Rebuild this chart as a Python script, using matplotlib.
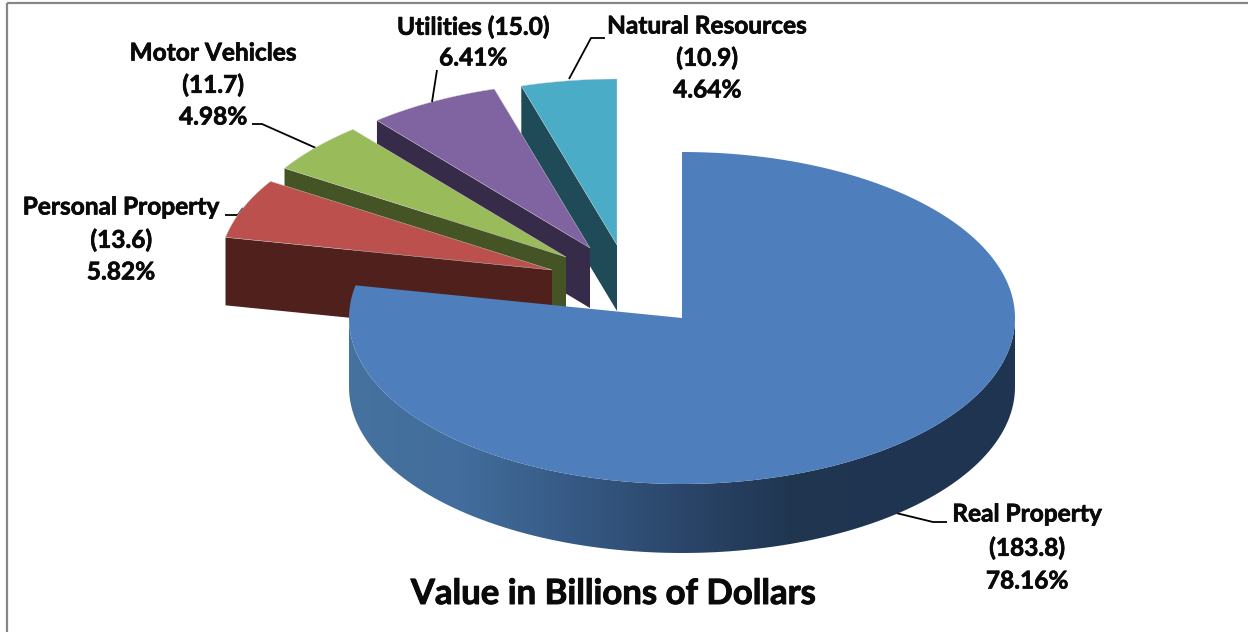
import matplotlib
matplotlib.use('Agg')
import matplotlib.pyplot as plt
import matplotlib.patheffects as pe
import numpy as np
from matplotlib.patches import Polygon, Rectangle
from matplotlib.colors import LinearSegmentedColormap

# data
names = ['Real Property', 'Personal Property', 'Motor Vehicles', 'Utilities', 'Natural Resources']
values = [183.8, 13.6, 11.7, 15.0, 10.9]
percents = [78.16, 5.82, 4.98, 6.41, 4.64]
title = 'Value in Billions of Dollars'

# look of the slices (pixel positions, y going down)
top_colors = ['#4e7fbc', '#bb504c', '#9abb59', '#8064a2', '#4aacc6']
side_colors = ['#2d4a70', '#4f201c', '#455425', '#372b4a', '#1f4a57']
apex_x = [682, 552, 566, 590, 617]
apex_y = [318, 270, 257, 248, 245]
depths = [69, 68, 60, 60, 66]
rx, ry = 333, 166

plt.rcParams['font.family'] = ['Lato', 'DejaVu Sans']
fig = plt.figure(figsize=(12.48, 6.32), dpi=100)
ax = fig.add_axes([0, 0, 1, 1])


def arc(cx, cy, t0, t1, n=120):
    t = np.radians(np.linspace(t0, t1, n))
    return np.column_stack([cx + rx * np.sin(t), cy - ry * np.cos(t)])


edges = np.concatenate([[0], np.cumsum(percents) / np.sum(percents) * 360])

# back slices first so the nearer ones cover them
for i in [4, 3, 2, 1]:
    cx, cy, d = apex_x[i], apex_y[i], depths[i]
    p0 = arc(cx, cy, edges[i], edges[i], 1)[0]
    side = [p0, (cx, cy), (cx, cy + d), (p0[0], p0[1] + d)]
    ax.add_patch(Polygon(side, closed=True, fc=side_colors[i], ec='none', zorder=i * -2 + 10))
    top = np.vstack([[(cx, cy)], arc(cx, cy, edges[i], edges[i + 1])])
    ax.add_patch(Polygon(top, closed=True, fc=top_colors[i], ec='#d0d0d0', lw=0.3, zorder=i * -2 + 11))

# big slice: rim with a left to right shading, then the top face
cx, cy, d = apex_x[0], apex_y[0], depths[0]
upper = arc(cx, cy, 90, 270)
lower = upper[::-1] + [0, d]
rim = Polygon(np.vstack([upper, lower]), closed=True, fc='none', ec='none', transform=ax.transData)
ax.add_patch(rim)
rim_cmap = LinearSegmentedColormap.from_list('rim', ['#46729f', '#426d9c', '#365a85', '#2b466a', '#203650', '#1f3450', '#1e3552'])
im = ax.imshow(np.linspace(0, 1, 256).reshape(1, -1), cmap=rim_cmap, extent=[cx - rx, cx + rx, cy + ry + d, cy], aspect='auto', zorder=20)
im.set_clip_path(rim)
top = np.vstack([[(cx, cy)], arc(cx, cy, edges[0], edges[1], 300)])
ax.add_patch(Polygon(top, closed=True, fc=top_colors[0], ec='none', zorder=21))

# leader lines
leaders = [
    ([892, 933, 947], [512, 522, 522]),
    ([225, 238, 243], [215, 215, 208]),
    ([252, 262, 316], [124, 124, 148]),
    ([437, 432], [70, 102]),
    ([605, 591, 569], [38, 38, 79]),
]
for xs, ys in leaders:
    ax.plot(xs, ys, color='black', lw=1.3, zorder=5, solid_capstyle='butt')

# labels: one line each, centred; a thin stroke brings Lato up to the reference weight
thick = [pe.withStroke(linewidth=0.5, foreground='#0a0a0a')]
label_pos = [(1027, [514, 548, 581]), (121, [207, 240, 272]), (213, [53, 85, 117]), (473, [27, 58]), (707, [26, 58, 90])]
for i, (lx, ys) in enumerate(label_pos):
    amount = '(%.1f)' % values[i]
    if len(ys) == 2:
        lines = ['%s %s' % (names[i], amount), '%.2f%%' % percents[i]]
    else:
        lines = [names[i], amount, '%.2f%%' % percents[i]]
    for line, y in zip(lines, ys):
        ax.text(lx, y, line, ha='center', va='center', fontsize=17.6, fontweight='bold', color='#0a0a0a', zorder=30, path_effects=thick)

ax.text(613, 594, title, ha='center', va='center', fontsize=25, fontweight='bold', color='#0a0a0a', zorder=30,
        path_effects=[pe.withStroke(linewidth=0.7, foreground='#0a0a0a')])

# chart frame runs off the right and bottom of the picture
ax.add_patch(Rectangle((7, 3), 1260, 650, fc='none', ec='#868686', lw=1.6, zorder=40))

ax.set_xlim(0, 1248)
ax.set_ylim(632, 0)
ax.axis('off')
fig.savefig('out.png', dpi=100, facecolor='white')
